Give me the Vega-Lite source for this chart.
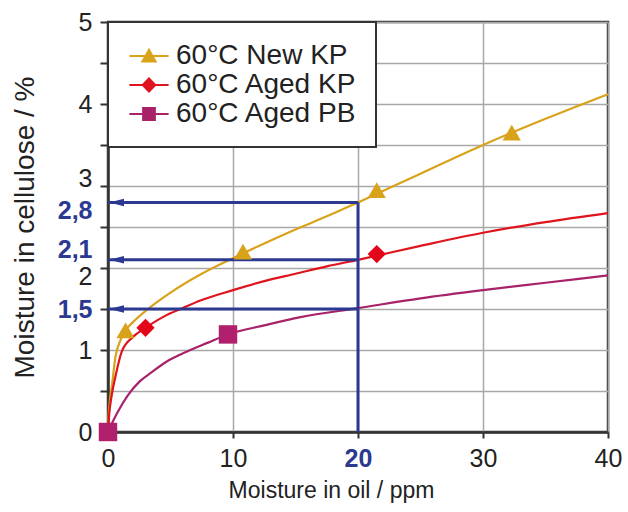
{
  "$schema": "https://vega.github.io/schema/vega-lite/v6.json",
  "width": 500,
  "height": 410,
  "autosize": "none",
  "padding": {"left": 108, "top": 22, "right": 20, "bottom": 80},
  "background": "white",
  "datasets": {
    "curves": [
      {"series": "60°C New KP", "x": 0, "y": 0},
      {"series": "60°C New KP", "x": 0.05, "y": 0.2},
      {"series": "60°C New KP", "x": 0.15, "y": 0.38},
      {"series": "60°C New KP", "x": 0.3, "y": 0.55},
      {"series": "60°C New KP", "x": 0.6, "y": 0.92},
      {"series": "60°C New KP", "x": 1, "y": 1.12},
      {"series": "60°C New KP", "x": 1.4, "y": 1.24},
      {"series": "60°C New KP", "x": 2, "y": 1.34},
      {"series": "60°C New KP", "x": 3.2, "y": 1.5},
      {"series": "60°C New KP", "x": 5, "y": 1.7},
      {"series": "60°C New KP", "x": 7.5, "y": 1.93},
      {"series": "60°C New KP", "x": 10, "y": 2.12},
      {"series": "60°C New KP", "x": 12.5, "y": 2.3},
      {"series": "60°C New KP", "x": 15, "y": 2.47},
      {"series": "60°C New KP", "x": 17.5, "y": 2.63},
      {"series": "60°C New KP", "x": 20, "y": 2.8},
      {"series": "60°C New KP", "x": 25, "y": 3.15},
      {"series": "60°C New KP", "x": 30, "y": 3.5},
      {"series": "60°C New KP", "x": 35, "y": 3.82},
      {"series": "60°C New KP", "x": 40, "y": 4.12},
      {"series": "60°C Aged KP", "x": 0, "y": 0},
      {"series": "60°C Aged KP", "x": 0.1, "y": 0.22},
      {"series": "60°C Aged KP", "x": 0.3, "y": 0.45},
      {"series": "60°C Aged KP", "x": 0.6, "y": 0.68},
      {"series": "60°C Aged KP", "x": 1.1, "y": 0.98},
      {"series": "60°C Aged KP", "x": 2, "y": 1.16},
      {"series": "60°C Aged KP", "x": 3, "y": 1.27},
      {"series": "60°C Aged KP", "x": 4.5, "y": 1.41},
      {"series": "60°C Aged KP", "x": 5.8, "y": 1.5},
      {"series": "60°C Aged KP", "x": 7.5, "y": 1.61},
      {"series": "60°C Aged KP", "x": 10, "y": 1.73},
      {"series": "60°C Aged KP", "x": 12.5, "y": 1.84},
      {"series": "60°C Aged KP", "x": 15, "y": 1.93},
      {"series": "60°C Aged KP", "x": 17.5, "y": 2.02},
      {"series": "60°C Aged KP", "x": 20, "y": 2.1},
      {"series": "60°C Aged KP", "x": 25, "y": 2.27},
      {"series": "60°C Aged KP", "x": 30, "y": 2.43},
      {"series": "60°C Aged KP", "x": 35, "y": 2.56},
      {"series": "60°C Aged KP", "x": 40, "y": 2.67},
      {"series": "60°C Aged PB", "x": 0, "y": 0},
      {"series": "60°C Aged PB", "x": 0.3, "y": 0.1},
      {"series": "60°C Aged PB", "x": 0.8, "y": 0.25},
      {"series": "60°C Aged PB", "x": 1.6, "y": 0.45},
      {"series": "60°C Aged PB", "x": 2.56, "y": 0.62},
      {"series": "60°C Aged PB", "x": 3.5, "y": 0.73},
      {"series": "60°C Aged PB", "x": 4.7, "y": 0.86},
      {"series": "60°C Aged PB", "x": 6, "y": 0.96},
      {"series": "60°C Aged PB", "x": 8, "y": 1.09},
      {"series": "60°C Aged PB", "x": 9.6, "y": 1.19},
      {"series": "60°C Aged PB", "x": 12.5, "y": 1.3},
      {"series": "60°C Aged PB", "x": 15.4, "y": 1.4},
      {"series": "60°C Aged PB", "x": 20, "y": 1.51},
      {"series": "60°C Aged PB", "x": 25, "y": 1.63},
      {"series": "60°C Aged PB", "x": 30, "y": 1.73},
      {"series": "60°C Aged PB", "x": 35, "y": 1.82},
      {"series": "60°C Aged PB", "x": 40, "y": 1.91}
    ],
    "markers": [
      {"series": "60°C New KP", "x": 1.4, "y": 1.24},
      {"series": "60°C New KP", "x": 10.8, "y": 2.2},
      {"series": "60°C New KP", "x": 21.5, "y": 2.95},
      {"series": "60°C New KP", "x": 32.3, "y": 3.65},
      {"series": "60°C Aged KP", "x": 3, "y": 1.27},
      {"series": "60°C Aged KP", "x": 21.5, "y": 2.17},
      {"series": "60°C Aged PB", "x": 0, "y": 0},
      {"series": "60°C Aged PB", "x": 9.6, "y": 1.19}
    ],
    "hlines": [
      {"x": 0, "x2": 20, "y": 2.8},
      {"x": 0, "x2": 20, "y": 2.1},
      {"x": 0, "x2": 20, "y": 1.5}
    ],
    "vline": [
      {"x": 20, "y": 0, "y2": 2.8}
    ]
  },
  "encoding": {
    "x": {
      "field": "x",
      "type": "quantitative",
      "scale": {"domain": [0, 40], "nice": false, "zero": false},
      "axis": {
        "values": [0, 10, 20, 30, 40],
        "title": "Moisture in oil / ppm",
        "titleFont": "Liberation Sans",
        "titleFontSize": 23,
        "titleFontWeight": "normal",
        "titleColor": "#222222",
        "titlePadding": 8,
        "titleX": 223,
        "labelFont": "Liberation Sans",
        "labelFontSize": 25,
        "labelColor": {"condition": {"test": "datum.value == 20", "value": "#2B3990"}, "value": "#222222"},
        "labelFontWeight": {"condition": {"test": "datum.value == 20", "value": "bold"}, "value": "normal"},
        "labelPadding": 8,
        "labelFlush": false,
        "labelOverlap": false,
        "tickSize": 6,
        "tickWidth": 2,
        "tickColor": "#333333",
        "domainColor": "#333333",
        "domainWidth": 2.5,
        "gridColor": "#a8a8a8",
        "gridWidth": 1.5
      }
    },
    "y": {
      "field": "y",
      "type": "quantitative",
      "scale": {"domain": [0, 5], "nice": false},
      "axis": {
        "values": [0, 0.5, 1, 1.5, 2, 2.1, 2.5, 2.8, 3, 3.5, 4, 4.5, 5],
        "labelExpr": "(datum.value == 1.5 || datum.value == 2.1 || datum.value == 2.8) ? replace(format(datum.value, '.1f'), '.', ',') : (datum.value % 1 == 0 ? format(datum.value, 'd') : '')",
        "title": "Moisture in cellulose / %",
        "titleFont": "Liberation Sans",
        "titleFontSize": 28,
        "titleFontWeight": "normal",
        "titleColor": "#222222",
        "titlePadding": 18,
        "labelFont": "Liberation Sans",
        "labelFontSize": 25,
        "labelLineHeight": 17.5,
        "labelColor": {"condition": {"test": "datum.value == 1.5 || datum.value == 2.1 || datum.value == 2.8", "value": "#2B3990"}, "value": "#222222"},
        "labelFontWeight": {"condition": {"test": "datum.value == 1.5 || datum.value == 2.1 || datum.value == 2.8", "value": "bold"}, "value": "normal"},
        "labelBaseline": {"condition": [{"test": "datum.value == 2 || datum.value == 2.8", "value": "line-top"}, {"test": "datum.value == 2.1", "value": "line-bottom"}, {"test": "datum.value == 3", "value": "alphabetic"}], "value": "middle"},
        "labelPadding": 8,
        "labelFlush": false,
        "labelOverlap": false,
        "tickSize": 8,
        "tickWidth": 2,
        "tickColor": {"condition": {"test": "datum.value == 2.1 || datum.value == 2.8", "value": "transparent"}, "value": "#333333"},
        "gridColor": {"condition": {"test": "datum.value == 2.1 || datum.value == 2.8", "value": "transparent"}, "value": "#a8a8a8"},
        "gridWidth": 1.5,
        "domainColor": "#333333",
        "domainWidth": 2.5
      }
    }
  },
  "layer": [
    {
      "data": {"name": "curves"},
      "mark": {"type": "line", "interpolate": "monotone", "strokeWidth": 2.2},
      "encoding": {
        "color": {
          "field": "series",
          "type": "nominal",
          "scale": {"domain": ["60°C New KP", "60°C Aged KP", "60°C Aged PB"], "range": ["#D9A21B", "#E0141E", "#A8226A"]},
          "legend": null
        }
      }
    },
    {
      "data": {"name": "vline"},
      "mark": {"type": "rule", "color": "#2B3990", "strokeWidth": 3},
      "encoding": {
        "y2": {"field": "y2"}
      }
    },
    {
      "data": {"name": "hlines"},
      "mark": {"type": "rule", "color": "#2B3990", "strokeWidth": 3},
      "encoding": {
        "x2": {"field": "x2"}
      }
    },
    {
      "data": {"name": "hlines"},
      "mark": {"type": "point", "filled": true, "opacity": 1, "color": "#2B3990", "shape": "M-1,0L1,-0.5L1,0.5Z", "size": 225, "xOffset": 8.5},
      "encoding": {}
    },
    {
      "data": {"name": "markers"},
      "mark": {"type": "point", "filled": true, "opacity": 1},
      "encoding": {
        "color": {
          "field": "series",
          "type": "nominal",
          "scale": {"domain": ["60°C New KP", "60°C Aged KP", "60°C Aged PB"], "range": ["#D9A21B", "#E3061A", "#B0206C"]},
          "legend": null
        },
        "shape": {
          "field": "series",
          "type": "nominal",
          "scale": {"domain": ["60°C New KP", "60°C Aged KP", "60°C Aged PB"], "range": ["triangle-up", "diamond", "square"]},
          "legend": null
        },
        "size": {
          "field": "series",
          "type": "nominal",
          "scale": {"domain": ["60°C New KP", "60°C Aged KP", "60°C Aged PB"], "range": [330, 340, 180]},
          "legend": null
        }
      }
    },
    {
      "data": {"name": "markers"},
      "mark": {"type": "point", "filled": true, "opacity": 0, "size": 784},
      "encoding": {
        "color": {
          "field": "series",
          "type": "nominal",
          "scale": {"domain": ["60°C New KP", "60°C Aged KP", "60°C Aged PB"], "range": ["#D9A21B", "#E0141E", "#A8226A"]},
          "legend": {
            "title": null,
            "orient": "top-left",
            "offset": 0,
            "padding": 19,
            "strokeColor": "#333333",
            "fillColor": "white",
            "labelFont": "Liberation Sans",
            "labelFontSize": 28,
            "labelColor": "#222222",
            "labelLimit": 400,
            "labelOffset": 12,
            "symbolOffset": 7,
            "symbolSize": 784,
            "symbolStrokeWidth": 2,
            "symbolOpacity": 1,
            "rowPadding": 0,
            "encode": {"legend": {"update": {"strokeWidth": {"value": 2}}}}
          }
        },
        "stroke": {
          "field": "series",
          "type": "nominal",
          "scale": {"domain": ["60°C New KP", "60°C Aged KP", "60°C Aged PB"], "range": ["#D9A21B", "#E0141E", "#A8226A"]},
          "legend": {
            "title": null,
            "orient": "top-left",
            "offset": 0,
            "padding": 19,
            "strokeColor": "#333333",
            "fillColor": "white",
            "labelFont": "Liberation Sans",
            "labelFontSize": 28,
            "labelColor": "#222222",
            "labelLimit": 400,
            "labelOffset": 12,
            "symbolOffset": 7,
            "symbolSize": 784,
            "symbolStrokeWidth": 2,
            "symbolOpacity": 1,
            "rowPadding": 0,
            "encode": {"legend": {"update": {"strokeWidth": {"value": 2}}}}
          }
        },
        "shape": {
          "field": "series",
          "type": "nominal",
          "scale": {"domain": ["60°C New KP", "60°C Aged KP", "60°C Aged PB"], "range": ["M-1.4,0H1.4M-0.47,0.4L0,-0.45L0.47,0.4Z", "M-1.4,0H1.4M-0.45,0L0,-0.47L0.45,0L0,0.47Z", "M-1.4,0H1.4M-0.42,-0.42H0.42V0.42H-0.42Z"]},
          "legend": {
            "title": null,
            "orient": "top-left",
            "offset": 0,
            "padding": 19,
            "strokeColor": "#333333",
            "fillColor": "white",
            "labelFont": "Liberation Sans",
            "labelFontSize": 28,
            "labelColor": "#222222",
            "labelLimit": 400,
            "labelOffset": 12,
            "symbolOffset": 7,
            "symbolSize": 784,
            "symbolStrokeWidth": 2,
            "symbolOpacity": 1,
            "rowPadding": 0,
            "encode": {"legend": {"update": {"strokeWidth": {"value": 2}}}}
          }
        }
      }
    }
  ],
  "resolve": {
    "scale": {"color": "independent", "shape": "independent", "size": "independent", "stroke": "independent"}
  },
  "config": {
    "font": "Liberation Sans",
    "view": {"stroke": "#333333", "strokeWidth": 2.5}
  }
}
